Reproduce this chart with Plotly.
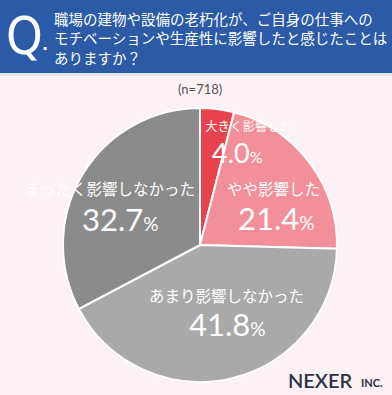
import plotly.graph_objects as go

W, H = 392, 395

# ---- data ----
categories = ["大きく影響した", "やや影響した", "あまり影響しなかった", "まったく影響しなかった"]
values = [4.0, 21.4, 41.8, 32.7]
colors = ["#e6434f", "#f28f98", "#a9a9a9", "#8b8b8b"]
n_label = "(n=718)"
question_lines = [
    "職場の建物や設備の老朽化が、ご自身の仕事への",
    "モチベーションや生産性に影響したと感じたことは",
    "ありますか？",
]
brand = "NEXER"
brand_suffix = "INC."

JP = "Noto Sans CJK JP"
NUM = "Lato"

def px(x):
    return x / W

def py(y):
    return 1 - y / H

# pie geometry (pixels)
cx, cy, r = 200, 245, 137

fig = go.Figure()
fig.add_trace(go.Pie(
    labels=categories,
    values=values,
    sort=False,
    direction="clockwise",
    rotation=0,
    marker=dict(colors=colors, line=dict(color="white", width=2)),
    textinfo="none",
    hoverinfo="label+percent",
    showlegend=False,
    domain=dict(x=[px(cx - r), px(cx + r)], y=[py(cy + r), py(cy - r)]),
))

shapes = [
    dict(type="rect", xref="paper", yref="paper", x0=0, x1=1, y0=py(73), y1=1,
         fillcolor="#2b5ba6", line=dict(width=0), layer="below"),
    dict(type="rect", xref="paper", yref="paper", x0=0, x1=1, y0=py(76), y1=py(73),
         fillcolor="#e4e6f2", line=dict(width=0), layer="below"),
]

ann = []
def add(text, x, y, size, color="white", family=JP, xanchor="center", weight=None):
    f = dict(size=size, color=color, family=family)
    if weight:
        f["weight"] = weight
    ann.append(dict(text=text, x=px(x), y=py(y), xref="paper", yref="paper",
                    showarrow=False, xanchor=xanchor, yanchor="middle", font=f))

# header
add("Q", 24, 36, 52, family="DejaVu Sans Condensed", weight=500)
add(".", 45, 45, 16, family="DejaVu Sans", weight=700)
for i, line in enumerate(question_lines):
    add(line, 52, [18, 38, 57][i], 14.5, xanchor="left")

# n label
add(n_label, 200, 89, 13, color="#555555", family=NUM)

def pct(v, small):
    return f"{v:.1f}<span style='font-size:{small}px'>%</span>"

# slice labels
add(categories[0], 249, 126, 12.5)
add(pct(values[0], 16), 238, 152, 27, family=NUM)
add(categories[1], 273, 188, 15.5)
add(pct(values[1], 19), 276, 218, 31, family=NUM)
add(categories[3], 110, 188, 15.5)
add(pct(values[3], 19), 120, 219, 31, family=NUM)
add(categories[2], 226, 295, 15.5)
add(pct(values[2], 19), 227, 324, 31, family=NUM)

# brand
add(brand, 320, 380, 20, color="#2c3346", family=NUM, weight=600)
add(brand_suffix, 372, 382, 11, color="#2c3346", family=NUM, weight=700)

fig.update_layout(
    width=W, height=H,
    margin=dict(l=0, r=0, t=0, b=0),
    paper_bgcolor="#fcf1f4",
    plot_bgcolor="#fcf1f4",
    shapes=shapes,
    annotations=ann,
)

fig.write_html("out.html")
